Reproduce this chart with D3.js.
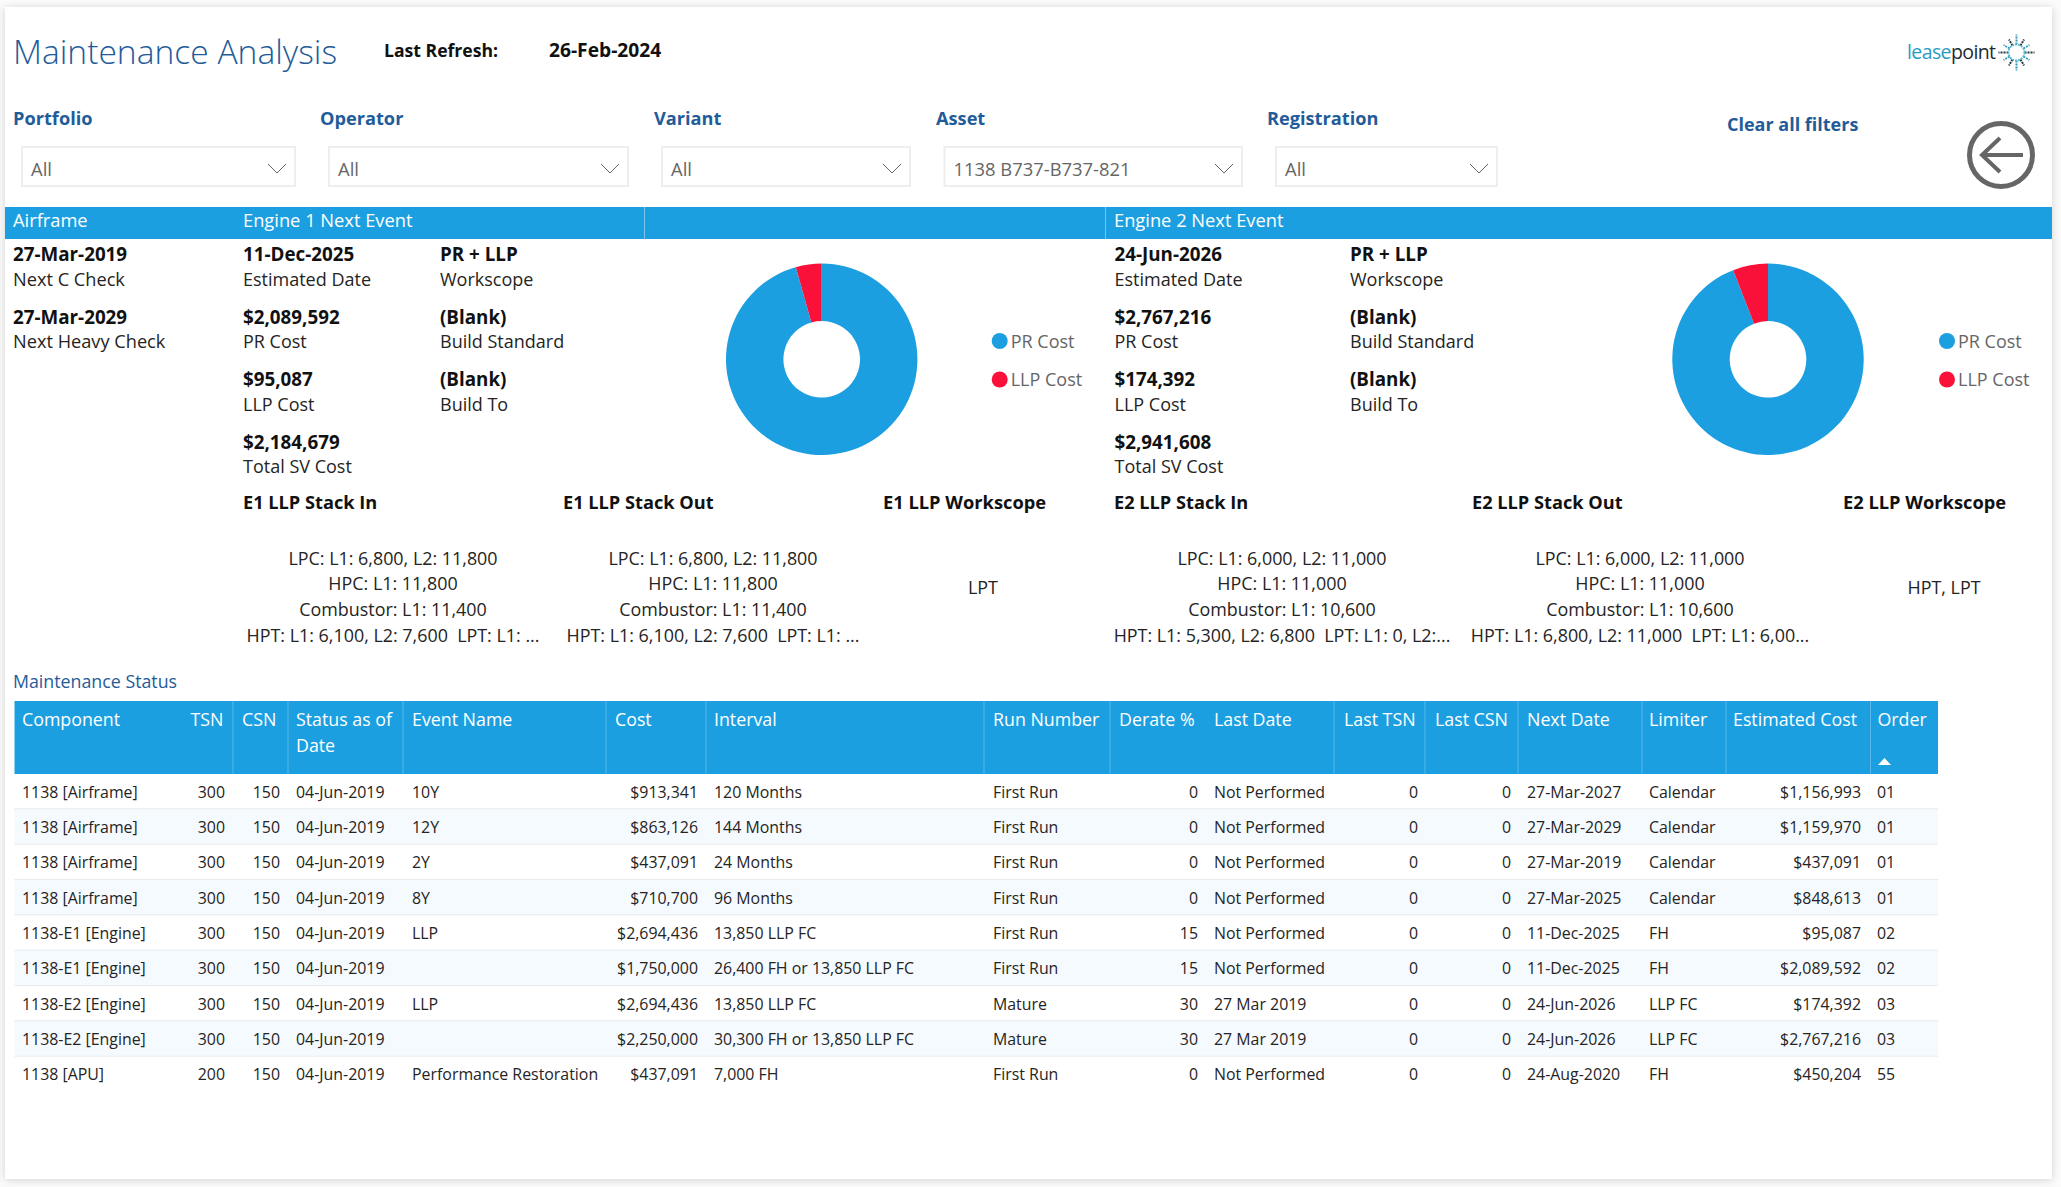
<!DOCTYPE html>
<html>
<head>
<meta charset="utf-8">
<script src="https://cdn.jsdelivr.net/npm/d3@7"></script>
<style>
html,body{margin:0;padding:0;background:#fbfbfb;overflow:hidden}
text{font-family:"Open Sans","Noto Sans",sans-serif}
</style>
</head>
<body>
<div id="chart"></div>
<script>
// Data

var filterLabels = ["Portfolio","Operator","Variant","Asset","Registration"];
var filterValues = ["All","All","All","1138 B737-B737-821","All"];

var airframeDates = ["27-Mar-2019","27-Mar-2029"];
var airframeNames = ["Next C Check","Next Heavy Check"];

var engineNames = ["PR Cost","LLP Cost"];
var e1Costs = [2089592,95087];
var e2Costs = [2767216,174392];
var e1Total = 2184679, e2Total = 2941608;
var e1Date = "11-Dec-2025", e2Date = "24-Jun-2026";
var workscopeValues = ["PR + LLP","(Blank)","(Blank)"];
var workscopeNames = ["Workscope","Build Standard","Build To"];

var e1StackIn = ["LPC: L1: 6,800, L2: 11,800","HPC: L1: 11,800","Combustor: L1: 11,400","HPT: L1: 6,100, L2: 7,600  LPT: L1: ..."];
var e1StackOut = ["LPC: L1: 6,800, L2: 11,800","HPC: L1: 11,800","Combustor: L1: 11,400","HPT: L1: 6,100, L2: 7,600  LPT: L1: ..."];
var e2StackIn = ["LPC: L1: 6,000, L2: 11,000","HPC: L1: 11,000","Combustor: L1: 10,600","HPT: L1: 5,300, L2: 6,800  LPT: L1: 0, L2:..."];
var e2StackOut = ["LPC: L1: 6,000, L2: 11,000","HPC: L1: 11,000","Combustor: L1: 10,600","HPT: L1: 6,800, L2: 11,000  LPT: L1: 6,00..."];

var headers = ["Component","TSN","CSN","Status as of","Event Name","Cost","Interval","Run Number","Derate %","Last Date","Last TSN","Last CSN","Next Date","Limiter","Estimated Cost","Order"];

var component = ["1138 [Airframe]","1138 [Airframe]","1138 [Airframe]","1138 [Airframe]","1138-E1 [Engine]","1138-E1 [Engine]","1138-E2 [Engine]","1138-E2 [Engine]","1138 [APU]"];
var tsn = [300,300,300,300,300,300,300,300,200];
var csn = [150,150,150,150,150,150,150,150,150];
var statusDate = ["04-Jun-2019","04-Jun-2019","04-Jun-2019","04-Jun-2019","04-Jun-2019","04-Jun-2019","04-Jun-2019","04-Jun-2019","04-Jun-2019"];
var eventName = ["10Y","12Y","2Y","8Y","LLP","","LLP","","Performance Restoration"];
var cost = [913341,863126,437091,710700,2694436,1750000,2694436,2250000,437091];
var interval = ["120 Months","144 Months","24 Months","96 Months","13,850 LLP FC","26,400 FH or 13,850 LLP FC","13,850 LLP FC","30,300 FH or 13,850 LLP FC","7,000 FH"];
var runNumber = ["First Run","First Run","First Run","First Run","First Run","First Run","Mature","Mature","First Run"];
var derate = [0,0,0,0,15,15,30,30,0];
var lastDate = ["Not Performed","Not Performed","Not Performed","Not Performed","Not Performed","Not Performed","27 Mar 2019","27 Mar 2019","Not Performed"];
var lastTsn = [0,0,0,0,0,0,0,0,0];
var lastCsn = [0,0,0,0,0,0,0,0,0];
var nextDate = ["27-Mar-2027","27-Mar-2029","27-Mar-2019","27-Mar-2025","11-Dec-2025","11-Dec-2025","24-Jun-2026","24-Jun-2026","24-Aug-2020"];
var limiter = ["Calendar","Calendar","Calendar","Calendar","FH","FH","LLP FC","LLP FC","FH"];
var estCost = [1156993,1159970,437091,848613,95087,2089592,174392,2767216,450204];
var order = ["01","01","01","01","02","02","03","03","55"];

// Colours

var blue = "#1c9fe0", red = "#f9113a", navy = "#1f5c99", dark = "#252423", grey = "#666666";
var money = d3.format("$,");

// Drawing

var svg = d3.select("#chart").append("svg")
	.attr("width",2061)
	.attr("height",1187);

var shadow = svg.append("defs").append("filter").attr("id","shadow")
	.attr("x","-2%").attr("y","-2%").attr("width","104%").attr("height","104%");
shadow.append("feDropShadow").attr("dx",0).attr("dy",1).attr("stdDeviation",4)
	.attr("flood-color","#000").attr("flood-opacity",0.16);

svg.append("rect").attr("x",5).attr("y",7).attr("width",2047).attr("height",1172)
	.attr("fill","white").attr("filter","url(#shadow)");

function txt(g,x,y,s,size,fill,weight,anchor){
	return g.append("text").attr("x",x).attr("y",y).text(s)
		.attr("font-size",size).attr("fill",fill)
		.attr("font-weight",weight || 400)
		.attr("text-anchor",anchor || "start")
		.style("white-space","pre");
}

// title row

txt(svg,13,64,"Maintenance Analysis",33.6,navy,300);
txt(svg,384,57,"Last Refresh:",17.6,"#111",700);
txt(svg,549,56.5,"26-Feb-2024",19.2,"#111",700);

// logo

var logo = svg.append("g");
var logoText = txt(logo,1907,59,"lease",19.5,"#2a9cc4",400).style("letter-spacing","-0.6px");
logoText.append("tspan").text("point").attr("fill","#1d2a33").attr("font-weight",500);
var star = logo.append("g").attr("transform","translate(2016.5,52.5)");
d3.range(12).forEach(function(i){
	var a = i/12*2*Math.PI;
	var r0 = 8, r1 = i%3==0 ? 18 : 15;
	star.append("line")
		.attr("x1",r0*Math.cos(a)).attr("y1",r0*Math.sin(a))
		.attr("x2",r1*Math.cos(a)).attr("y2",r1*Math.sin(a))
		.attr("stroke",i%2==0 ? "#1f3a45" : "#2f98b8").attr("stroke-width",2)
		.attr("stroke-dasharray","2,1");
});
star.append("circle").attr("r",8).attr("fill","none").attr("stroke","#5cb8d2").attr("stroke-width",2).attr("stroke-dasharray","2,1");

// filters

var filterLabelX = [13,320,654,936,1267];
var filterBoxX = [21,328,661,943.5,1275];
var filterBoxW = [275,301,250,299.5,223];

filterLabels.forEach(function(f,i){
	txt(svg,filterLabelX[i],125,f,18.2,navy,700);
	svg.append("rect").attr("x",filterBoxX[i]+1).attr("y",147).attr("width",filterBoxW[i]-2).attr("height",39)
		.attr("fill","white").attr("stroke","#eeeeee").attr("stroke-width",2);
	txt(svg,filterBoxX[i]+10,176,filterValues[i],18.4,grey);
	var cx = filterBoxX[i]+filterBoxW[i]-19;
	svg.append("path").attr("d",d3.line()([[cx-9,164],[cx,173],[cx+9,164]]))
		.attr("fill","none").attr("stroke","#666").attr("stroke-width",1);
});

txt(svg,1727,131,"Clear all filters",18,navy,700);

// back button

svg.append("circle").attr("cx",2001).attr("cy",155).attr("r",31.5)
	.attr("fill","white").attr("stroke",grey).attr("stroke-width",5);
svg.append("path").attr("d",d3.line()([[2000,138],[1982,155],[2000,172]]))
	.attr("fill","none").attr("stroke",grey).attr("stroke-width",4);
svg.append("line").attr("x1",1982).attr("y1",155).attr("x2",2023).attr("y2",155)
	.attr("stroke",grey).attr("stroke-width",4);

// section band

svg.append("rect").attr("x",5).attr("y",207).attr("width",2047).attr("height",32).attr("fill",blue);
[644.5,1105.5].forEach(function(x){
	svg.append("line").attr("x1",x).attr("x2",x).attr("y1",207).attr("y2",239)
		.attr("stroke","#7cc6ee").attr("stroke-width",1);
});
txt(svg,13,227,"Airframe",18.3,"white");
txt(svg,243,227,"Engine 1 Next Event",18.3,"white");
txt(svg,1114,227,"Engine 2 Next Event",18.3,"white");

// airframe and engine cards

var lineY = [260.5,286,323.5,348,386,411,449,473];

airframeDates.forEach(function(d,i){
	txt(svg,13,lineY[i*2],d,18.8,"#111",700);
	txt(svg,13,lineY[i*2+1],airframeNames[i],18.2,dark);
});

function engineCard(x0,x1,date,costs,total){
	txt(svg,x0,lineY[0],date,18.8,"#111",700);
	txt(svg,x0,lineY[1],"Estimated Date",18,dark);
	var vals = [costs[0],costs[1],total];
	["PR Cost","LLP Cost","Total SV Cost"].forEach(function(n,i){
		txt(svg,x0,lineY[2+i*2],money(vals[i]),18.8,"#111",700);
		txt(svg,x0,lineY[3+i*2],n,18,dark);
	});
	workscopeValues.forEach(function(v,i){
		txt(svg,x1,lineY[i*2],v,18.8,"#111",700);
		txt(svg,x1,lineY[i*2+1],workscopeNames[i],18,dark);
	});
}
engineCard(243,440,e1Date,e1Costs,e1Total);
engineCard(1114.5,1350,e2Date,e2Costs,e2Total);

// donuts

var pie = d3.pie().sort(null);
var arc = d3.arc().innerRadius(38.3).outerRadius(95.7);
var color = d3.scaleOrdinal().domain(engineNames).range([blue,red]);

function donut(cx,lx,costs){
	var g = svg.append("g").attr("transform","translate("+cx+",359.3)");
	g.selectAll("path").data(pie(costs)).enter().append("path")
		.attr("d",arc)
		.attr("fill",function(d,i){return color(engineNames[i])});
	engineNames.forEach(function(n,i){
		var y = i==0 ? 341 : 379.5;
		svg.append("circle").attr("cx",lx).attr("cy",y).attr("r",8).attr("fill",color(n));
		txt(svg,lx+11,y+6.5,n,18,grey);
	});
}
donut(821.7,999.7,e1Costs);
donut(1768,1947,e2Costs);

// LLP stacks

var stackY = [565,590,616,641.5];

function stack(xHead,xMid,head,lines){
	txt(svg,xHead,509,head,18.2,"#111",700);
	lines.forEach(function(s,i){
		txt(svg,xMid,stackY[i],s,17.9,dark,400,"middle");
	});
}
stack(243,393,"E1 LLP Stack In",e1StackIn);
stack(563,713,"E1 LLP Stack Out",e1StackOut);
stack(1114,1282,"E2 LLP Stack In",e2StackIn);
stack(1472,1640,"E2 LLP Stack Out",e2StackOut);
txt(svg,883,509,"E1 LLP Workscope",18.3,"#111",700);
txt(svg,1843,509,"E2 LLP Workscope",18.3,"#111",700);
txt(svg,983,594,"LPT",17.9,dark,400,"middle");
txt(svg,1944,594,"HPT, LPT",17.9,dark,400,"middle");

// table

txt(svg,13,688,"Maintenance Status",17.8,navy);

var tableLeft = 14.5, tableRight = 1938, headTop = 701, rowTop = 774, rowBottom = 1092;

var y = d3.scaleBand().domain(d3.range(component.length)).range([rowTop,rowBottom]);

svg.append("rect").attr("x",tableLeft).attr("y",headTop)
	.attr("width",tableRight-tableLeft).attr("height",rowTop-headTop).attr("fill",blue);

[233,288,403,606,706,984,1110,1334,1425,1518,1642,1726,1870.5].forEach(function(x){
	svg.append("line").attr("x1",x).attr("x2",x).attr("y1",headTop).attr("y2",rowTop)
		.attr("stroke","#57b6ea").attr("stroke-width",1);
});

var headerX = [22,190.5,242,296,412,615,714,993,1119,1214,1344,1435,1527,1649,1733,1877.5];
headers.forEach(function(h,i){
	txt(svg,headerX[i],726,h,17.8,"white");
});
txt(svg,296,752,"Date",17.8,"white");
svg.append("path").attr("d",d3.line()([[1878,765],[1891,765],[1884.5,758]])).attr("fill","white");

var rows = svg.selectAll(".row").data(d3.range(component.length)).enter().append("g").attr("class","row");

rows.append("rect").attr("x",tableLeft).attr("width",tableRight-tableLeft)
	.attr("y",function(i){return y(i)}).attr("height",y.bandwidth())
	.attr("fill",function(i){return i%2==1 ? "#f5faff" : "white"});
rows.filter(function(i){return i<component.length-1}).append("line")
	.attr("x1",tableLeft).attr("x2",tableRight)
	.attr("y1",function(i){return y(i)+y.bandwidth()}).attr("y2",function(i){return y(i)+y.bandwidth()})
	.attr("stroke","#e8eaec").attr("stroke-width",2);

var cols = [
	[component,22,"start"],[tsn,225,"end"],[csn,280,"end"],[statusDate,296,"start"],
	[eventName,412,"start"],[cost.map(money),698,"end"],[interval,714,"start"],[runNumber,993,"start"],
	[derate,1198,"end"],[lastDate,1214,"start"],[lastTsn,1418,"end"],[lastCsn,1511,"end"],
	[nextDate,1527,"start"],[limiter,1649,"start"],[estCost.map(money),1861,"end"],[order,1877,"start"]
];

cols.forEach(function(c){
	rows.append("text")
		.attr("x",c[1])
		.attr("y",function(i){return y(i)+y.bandwidth()/2+6})
		.attr("text-anchor",c[2])
		.attr("font-size",15.9)
		.attr("fill",dark)
		.text(function(i){return c[0][i]});
});
</script>
</body>
</html>
